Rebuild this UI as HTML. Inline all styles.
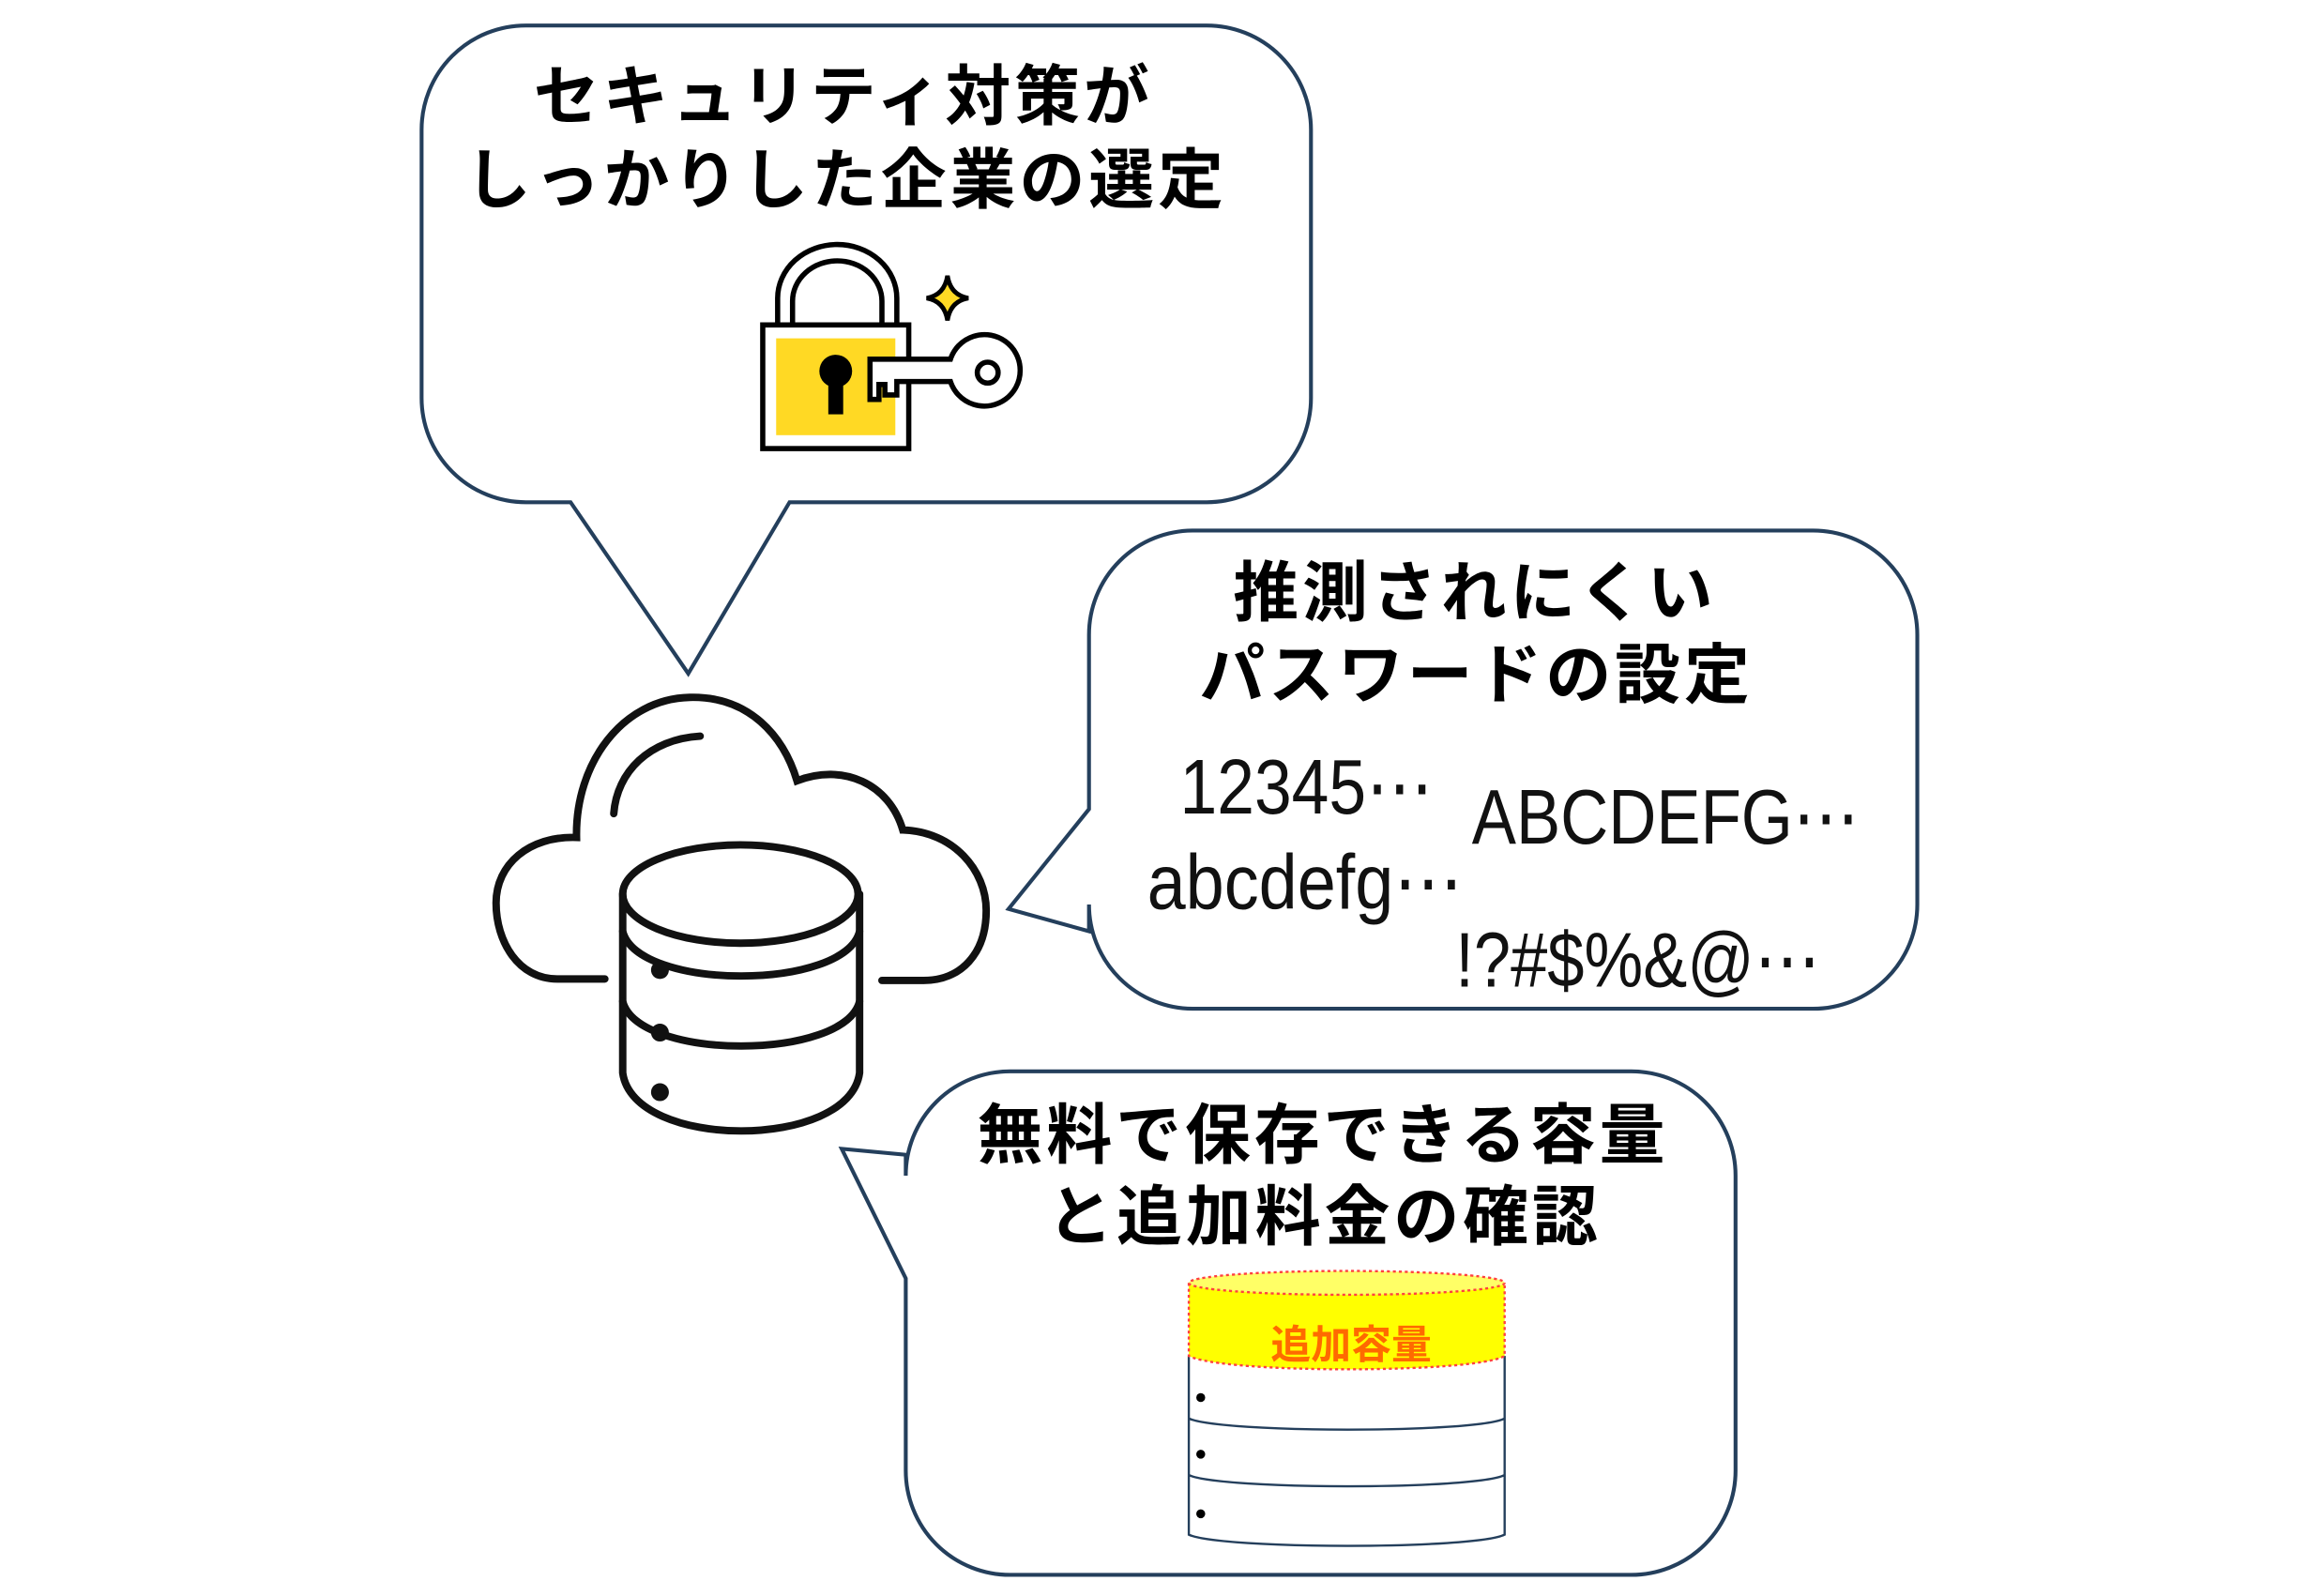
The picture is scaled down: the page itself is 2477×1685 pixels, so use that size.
<!DOCTYPE html>
<html><head><meta charset="utf-8"><style>
html,body{margin:0;padding:0;background:#fff;}
svg{display:block;}
.jp{font-family:"Liberation Sans","Noto Sans CJK JP",sans-serif;font-weight:bold;font-size:44px;letter-spacing:2.5px;fill:#000;}
.lat{font-family:"Liberation Sans","DejaVu Sans",sans-serif;font-size:52px;fill:#111;}
</style></head><body>
<svg width="2477" height="1685" viewBox="0 0 1560 1061" xmlns="http://www.w3.org/2000/svg">
<g fill="#fff" stroke="#243f5c" stroke-width="2.6" stroke-linejoin="miter">
<!-- bubble 1 -->
<path d="M353,17 H810 A70,70 0 0 1 880,87 V267 A70,70 0 0 1 810,337 H530 L462,452 L383,337 H353 A70,70 0 0 1 283,267 V87 A70,70 0 0 1 353,17 Z"/>
<!-- bubble 2 -->
<path d="M801,356 H1217 A70,70 0 0 1 1287,426 V607 A70,70 0 0 1 1217,677 H801 A70,70 0 0 1 731,607 V625 L677,610 L731,543 V426 A70,70 0 0 1 801,356 Z"/>
<!-- bubble 3 -->
<path d="M678,719 H1095 A70,70 0 0 1 1165,789 V987 A70,70 0 0 1 1095,1057 H678 A70,70 0 0 1 608,987 V858 L565,771 L608,775 V789 A70,70 0 0 1 678,719 Z"/>
</g>

<text class="jp" x="566" y="80" text-anchor="middle">セキュリティ対策が</text>
<text class="jp" x="568" y="136" text-anchor="middle">しっかりした企業の選定</text>
<text class="jp" x="990" y="413" text-anchor="middle">推測されにくい</text>
<text class="jp" x="991" y="468" text-anchor="middle">パスワードの設定</text>
<text class="jp" x="888" y="777" text-anchor="middle">無料で保存できる容量</text>
<text class="jp" x="889" y="832" text-anchor="middle">と追加料金の確認</text>

<text class="lat" x="792" y="546" textLength="170" lengthAdjust="spacingAndGlyphs">12345⋯</text>
<text class="lat" x="988" y="566" textLength="260" lengthAdjust="spacingAndGlyphs">ABCDEFG⋯</text>
<text class="lat" x="770" y="610" textLength="212" lengthAdjust="spacingAndGlyphs">abcdefg⋯</text>
<text class="lat" x="977" y="662" textLength="245" lengthAdjust="spacingAndGlyphs">!?#$%&amp;@⋯</text>

<!-- lock -->
<g stroke="#000" stroke-width="3.5" fill="none">
<path d="M522,218 V200 A40,36 0 0 1 602,200 V218"/>
<path d="M532,218 V202 A30,27 0 0 1 592,202 V218"/>
<rect x="512" y="218" width="98" height="83" fill="#fff"/>
</g>
<rect x="521" y="227" width="80" height="65" fill="#ffd924"/>
<circle cx="561" cy="249" r="11" fill="#000"/>
<rect x="556" y="252" width="10" height="26" fill="#000"/>
<g stroke="#000" stroke-width="3.5" fill="#fff" stroke-linejoin="miter">
<path d="M584,241 H638 A24,24 0 1 1 638,256 H602 V265 H594 V258 H590 V268 H584 Z"/>
<circle cx="663" cy="250" r="7"/>
</g>
<path d="M636,185 Q638,198 650,200 Q638,202 636,215 Q634,202 622,200 Q634,198 636,185 Z" fill="#ffd924" stroke="#000" stroke-width="3"/>

<!-- cloud -->
<g stroke="#111" stroke-width="5" fill="none" stroke-linecap="round">
<path d="M406,657 H374 C348,657 333,632 333,606 C333,580 355,561 387,562 C386,512 418,469 463,468 C503,467 526,494 535,524 C566,512 597,526 606,557 C640,558 662,584 662,611 C662,640 645,658 620,658 H592"/>
<path d="M412,546 C414,518 436,496 470,494"/>
<ellipse cx="497" cy="600" rx="79" ry="33" fill="#fff"/>
<path d="M418,600 V720 C425,772 570,772 577,720 V600"/>
<path d="M418,625 C428,665 567,665 577,625"/>
<path d="M418,672 C428,712 567,712 577,672"/>
</g>
<g fill="#111"><circle cx="443" cy="651" r="6"/><circle cx="443" cy="693" r="6"/><circle cx="443" cy="733" r="6"/></g>

<!-- storage cylinder -->
<g stroke="#243f5c" stroke-width="1.5" fill="#fff">
<path d="M798,910 V1030 C820,1040 990,1040 1010,1030 V910"/>
<path d="M798,952 C820,962 990,962 1010,952" fill="none"/>
<path d="M798,990 C820,1000 990,1000 1010,990" fill="none"/>
</g>
<path d="M798,861 V910 C820,922 990,922 1010,910 V861 Z" fill="#ffff00" stroke="#ff4040" stroke-width="1.5" stroke-dasharray="2,2"/>
<ellipse cx="904" cy="861" rx="106" ry="8" fill="#ffff66" stroke="#ff4040" stroke-width="1.5" stroke-dasharray="2,2"/>
<text x="907" y="912" text-anchor="middle" style="font-family:'Liberation Sans','Noto Sans CJK JP',sans-serif;font-weight:bold;font-size:27px;fill:#ff6a00;">追加容量</text>
<g fill="#000"><circle cx="806" cy="938" r="3"/><circle cx="806" cy="976" r="3"/><circle cx="806" cy="1016" r="3"/></g>
</svg>
</body></html>
